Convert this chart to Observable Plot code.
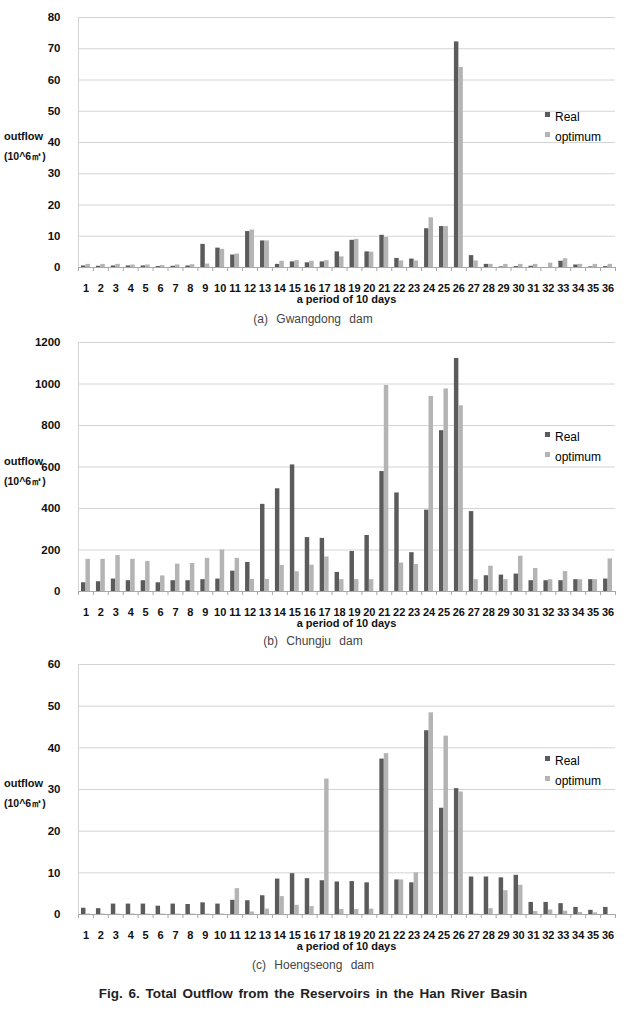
<!DOCTYPE html>
<html>
<head>
<meta charset="utf-8">
<script src="https://cdn.jsdelivr.net/npm/d3@7"></script>
<script src="https://cdn.jsdelivr.net/npm/@observablehq/plot@0.6"></script>
<style>
  html, body { margin: 0; padding: 0; background: #fff; }
  #page { position: relative; width: 626px; height: 1017px; overflow: hidden; font-family: "Liberation Sans", Arial, sans-serif; }
  .abs { position: absolute; }
  .panel svg { display: block; }
  .ylab { position: absolute; left: 4px; font-weight: bold; color: #111; line-height: 1; }
  .xlab { position: absolute; left: 78px; width: 537px; text-align: center; font-weight: bold; font-size: 11px; color: #111; line-height: 1; }
  .legend { position: absolute; left: 545px; font-size: 12px; color: #000; line-height: 1; }
  .legend .row { position: absolute; left: 0; white-space: nowrap; }
  .legend .sw { display: inline-block; width: 5px; height: 5px; vertical-align: top; margin-top: 1px; margin-right: 5px; }
  .caption { position: absolute; left: 0; width: 626px; text-align: center; font-size: 12px; color: #444; word-spacing: 5px; line-height: 1; }
  .title { position: absolute; left: 0; width: 626px; text-align: center; font-size: 13.5px; color: #222; word-spacing: 2px; line-height: 1; font-weight: 600; }
</style>
</head>
<body>
<div id="page"></div>
<script>
// Ten-day periods of the year
const periods = [1, 2, 3, 4, 5, 6, 7, 8, 9, 10, 11, 12, 13, 14, 15, 16, 17, 18,
                 19, 20, 21, 22, 23, 24, 25, 26, 27, 28, 29, 30, 31, 32, 33, 34, 35, 36];
const seriesNames = ["Real", "optimum"];

// (a) Gwangdong dam outflow, 10^6 m3
const gwangdongReal = [0.5, 0.4, 0.5, 0.5, 0.5, 0.3, 0.4, 0.5, 7.4, 6.2, 4.0, 11.5, 8.5, 1.0, 1.8, 1.5, 1.8, 5.0,
                       8.7, 5.0, 10.3, 2.9, 2.7, 12.4, 13.1, 72.2, 3.8, 1.0, 0.2, 0.3, 0.4, 0.0, 2.0, 0.8, 0.2, 0.3];
const gwangdongOpt  = [1.0, 1.0, 1.0, 0.8, 0.8, 0.6, 0.8, 0.9, 1.1, 5.8, 4.3, 12.0, 8.5, 2.0, 2.2, 2.0, 2.2, 3.4,
                       9.0, 4.9, 9.6, 2.1, 2.1, 15.9, 13.1, 64.0, 2.1, 1.0, 1.0, 1.0, 1.0, 1.4, 2.8, 1.0, 1.0, 1.0];
const gwangdongTicks = [0, 10, 20, 30, 40, 50, 60, 70, 80];

// (b) Chungju dam outflow, 10^6 m3
const chungjuReal = [42, 47, 60, 52, 52, 42, 52, 52, 57, 60, 98, 140, 420, 495, 610, 260, 256, 92,
                     193, 270, 578, 475, 187, 392, 775, 1123, 385, 76, 79, 84, 52, 52, 52, 57, 57, 60];
const chungjuOpt  = [155, 155, 173, 155, 145, 75, 132, 135, 160, 200, 160, 58, 58, 125, 95, 127, 166, 57,
                     57, 57, 993, 137, 130, 940, 976, 895, 57, 122, 57, 170, 111, 57, 96, 57, 57, 157];
const chungjuTicks = [0, 200, 400, 600, 800, 1000, 1200];

// (c) Hoengseong dam outflow, 10^6 m3
const hoengseongReal = [1.5, 1.4, 2.5, 2.5, 2.5, 2.0, 2.5, 2.4, 2.8, 2.5, 3.4, 3.3, 4.5, 8.5, 9.8, 8.6, 8.1, 7.8,
                        7.9, 7.6, 37.3, 8.3, 7.6, 44.1, 25.5, 30.2, 9.0, 9.0, 8.8, 9.4, 2.9, 2.9, 2.6, 1.7, 1.0, 1.7];
const hoengseongOpt  = [0.1, 0.1, 0.1, 0.1, 0.1, 0.1, 0.1, 0.1, 0.1, 0.1, 6.2, 0.6, 1.3, 4.3, 2.2, 1.9, 32.5, 1.2,
                        1.2, 1.3, 38.6, 8.3, 10.0, 48.4, 42.8, 29.4, 0.1, 1.4, 5.7, 7.0, 0.7, 1.1, 0.8, 0.5, 0.4, 0.0];
const hoengseongTicks = [0, 10, 20, 30, 40, 50, 60];

const captions = ["(a) Gwangdong dam", "(b) Chungju dam", "(c) Hoengseong dam"];
const figTitle = "Fig. 6. Total Outflow from the Reservoirs in the Han River Basin";
const yLabel = ["outflow", "(10^6㎥)"];
const xLabel = "a period of 10 days";

const REAL = "#5b5b5b";
const OPT = "#b4b4b4";
const WIDTH = 626, ML = 78, MR = 11;
const bw = (WIDTH - ML - MR) / periods.length;

function drawPanel(real, opt, yTicks, marginTop, plotHeight) {
  const rows = periods.map((p, i) => ({period: p, real: real[i], opt: opt[i]}));
  const mb = 40;
  return Plot.plot({
    width: WIDTH,
    height: marginTop + plotHeight + mb,
    marginLeft: ML,
    marginRight: MR,
    marginTop,
    marginBottom: mb,
    style: {fontFamily: "'Liberation Sans', Arial, sans-serif", fontSize: "11px", color: "#111", background: "transparent"},
    x: {type: "band", domain: periods, padding: 0},
    y: {domain: [0, yTicks[yTicks.length - 1]]},
    marks: [
      Plot.gridY(yTicks, {stroke: "#d4d4d4", strokeOpacity: 1}),
      Plot.ruleX([periods[0]], {dx: -bw / 2, stroke: "#d4d4d4"}),
      Plot.barY(rows, {x: "period", y: "real", fill: REAL, insetLeft: 3, insetRight: bw / 2}),
      Plot.barY(rows, {x: "period", y: "opt", fill: OPT, insetLeft: bw / 2, insetRight: 3}),
      Plot.ruleY([0], {stroke: "#a8a8a8"}),
      Plot.axisY(yTicks, {tickSize: 0, tickPadding: 18, tickFormat: d3.format("d"), label: null, fontWeight: "bold", fontSize: 11.5}),
      Plot.axisX({tickSize: 0, tickPadding: 17, label: null, fontWeight: "bold", fontSize: 11}),
      Plot.axisX({tickSize: 4, tickFormat: () => "", dx: -bw / 2, label: null, stroke: "#a8a8a8"}),
      Plot.axisX([periods[periods.length - 1]], {tickSize: 4, tickFormat: () => "", dx: bw / 2, label: null, stroke: "#a8a8a8"})
    ]
  });
}

const page = document.getElementById("page");

function add(cls, top, html, extra) {
  const d = document.createElement("div");
  d.className = cls;
  d.style.top = top + "px";
  if (extra) Object.assign(d.style, extra);
  d.innerHTML = html;
  page.appendChild(d);
  return d;
}

const panels = [
  {real: gwangdongReal, opt: gwangdongOpt, ticks: gwangdongTicks, top: 0, mt: 17, h: 250, legend: 111, cap: 313},
  {real: chungjuReal, opt: chungjuOpt, ticks: chungjuTicks, top: 330, mt: 12, h: 249, legend: 431, cap: 635},
  {real: hoengseongReal, opt: hoengseongOpt, ticks: hoengseongTicks, top: 652, mt: 12, h: 250, legend: 755, cap: 959}
];

panels.forEach((p, i) => {
  const holder = add("abs panel", p.top, "", {left: "0px"});
  holder.appendChild(drawPanel(p.real, p.opt, p.ticks, p.mt, p.h));
  const axisY0 = p.top + p.mt + p.h;
  const mid = p.top + p.mt + p.h / 2;
  add("ylab", mid - 11, yLabel[0], {fontSize: "11px"});
  add("ylab", mid + 9, yLabel[1], {fontSize: "10.5px"});
  add("xlab", axisY0 + 27, xLabel);
  const lg = add("legend", p.legend, "");
  lg.innerHTML =
    `<div class="row" style="top:0px"><span class="sw" style="background:${REAL}"></span>${seriesNames[0]}</div>` +
    `<div class="row" style="top:20px"><span class="sw" style="background:${OPT}"></span>${seriesNames[1]}</div>`;
  add("caption", p.cap, captions[i]);
});

add("title", 987, figTitle);
</script>
</body>
</html>
